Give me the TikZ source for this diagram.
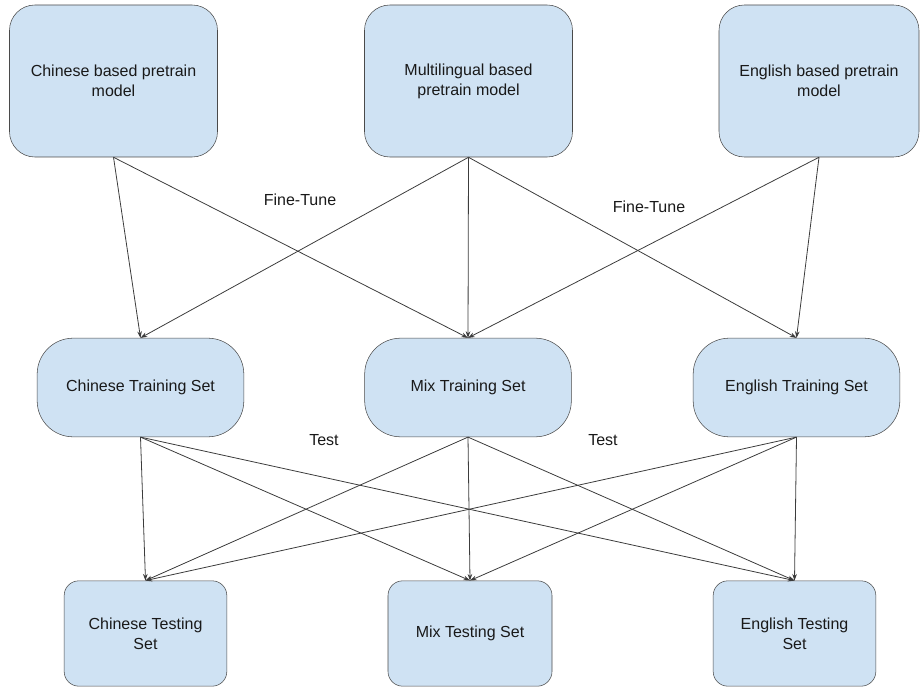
\documentclass[tikz,border=0pt]{standalone}
\usepackage{fontspec}
\setmainfont{Liberation Sans}
\usepackage{tikz}
\usetikzlibrary{arrows.meta,positioning}
\definecolor{boxfill}{HTML}{CFE2F3}
\definecolor{boxline}{HTML}{4A4A4A}
\definecolor{edgeline}{HTML}{3C3C3C}

\begin{document}
\begin{tikzpicture}[
    x=0.75pt, y=-0.75pt,
    every node/.style={align=center, font=\fontsize{12}{15}\selectfont, text=black!90},
    pretrain/.style={draw=boxline, fill=boxfill, rounded corners=19pt, minimum width=156pt, minimum height=114pt},
    trainset/.style={draw=boxline, fill=boxfill, rounded corners=27pt, minimum width=155pt, minimum height=74pt},
    testset/.style={draw=boxline, fill=boxfill, rounded corners=11pt, minimum width=122pt, minimum height=79pt},
    arrow/.style={-{Stealth[length=5pt, width=3.5pt]}, edgeline, line width=0.6pt}
]
    \useasboundingbox (0,0) rectangle (920,688);

    % pretrain models
    \node[pretrain] (pre-chn) at (113.5,81) {Chinese based pretrain\\model};
    \node[pretrain] (pre-mix) at (468.5,81) {Multilingual based\\pretrain model};
    \node[pretrain, minimum width=150pt] (pre-eng) at (819,81) {English based pretrain\\model};

    % training sets
    \node[trainset] (train-chn) at (140.5,387.5) {Chinese Training Set};
    \node[trainset] (train-mix) at (468,387.5) {Mix Training Set};
    \node[trainset] (train-eng) at (796.5,387.5) {English Training Set};

    % testing sets
    \node[testset] (test-chn) at (145.5,633.5) {Chinese Testing\\Set};
    \node[testset, minimum width=123pt] (test-mix) at (470,633.5) {Mix Testing Set};
    \node[testset] (test-eng) at (794.5,633.5) {English Testing\\Set};

    % labels
    \node (ft-left) at (300,200) {Fine-Tune};
    \node (ft-right) at (649,207) {Fine-Tune};
    \node (test-left) at (324,440) {Test};
    \node (test-right) at (603,440) {Test};

    % fine-tune edges
    \draw[arrow] (pre-chn.south) -- (train-chn.north);
    \draw[arrow] (pre-chn.south) -- (train-mix.north);
    \foreach \t in {chn,mix,eng}
        \draw[arrow] (pre-mix.south) -- (train-\t.north);
    \draw[arrow] (pre-eng.south) -- (train-mix.north);
    \draw[arrow] (pre-eng.south) -- (train-eng.north);

    % test edges
    \foreach \s in {chn,mix,eng}
        \foreach \t in {chn,mix,eng}
            \draw[arrow] (train-\s.south) -- (test-\t.north);
\end{tikzpicture}
\end{document}
